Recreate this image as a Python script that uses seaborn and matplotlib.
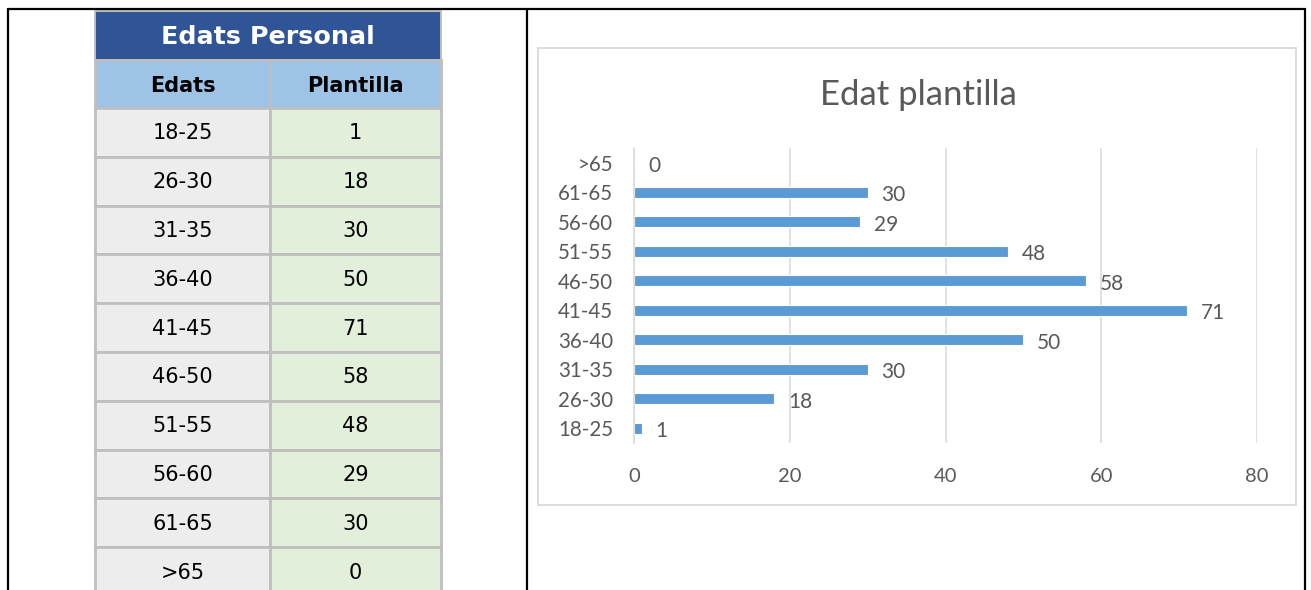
import matplotlib
matplotlib.use("Agg")
import matplotlib.pyplot as plt
import seaborn as sns
import pandas as pd
from matplotlib.patches import Rectangle
from matplotlib.lines import Line2D

# data
age_groups = ['18-25', '26-30', '31-35', '36-40', '41-45', '46-50', '51-55', '56-60', '61-65', '>65']
staff = [1, 18, 30, 50, 71, 58, 48, 29, 30, 0]
table_title = 'Edats Personal'
table_headers = ['Edats', 'Plantilla']
chart_title = 'Edat plantilla'
x_ticks = [0, 20, 40, 60, 80]

W, H = 1311, 590
sns.set_theme(style="white")
plt.rcParams['font.family'] = ['DejaVu Sans']

fig = plt.figure(figsize=(W / 100, H / 100), dpi=100)
fig.patch.set_facecolor('white')

# outer frame of the page
def fx(px):
    return px / W

def fy(py):
    return 1 - py / H

frame_kw = dict(color='black', lw=1.6, transform=fig.transFigure)
fig.add_artist(Line2D([fx(8), fx(8)], [fy(9), 0], **frame_kw))
fig.add_artist(Line2D([fx(527), fx(527)], [fy(9), 0], **frame_kw))
fig.add_artist(Line2D([fx(1305), fx(1305)], [fy(9), 0], **frame_kw))
fig.add_artist(Line2D([fx(8), fx(1305)], [fy(9), fy(9)], **frame_kw))

# ---- table (left) ----
tab = fig.add_axes([0, 0, 1, 1])
tab.set_xlim(0, W)
tab.set_ylim(H, 0)
tab.axis('off')
tab.patch.set_alpha(0)

col_x = [95, 270, 441]
grid = '#BFBFBF'
tab.add_patch(Rectangle((col_x[0], 11), col_x[2] - col_x[0], 49,
                        facecolor='#2F5597', edgecolor=grid, lw=1.4))
tab.text((col_x[0] + col_x[2]) / 2, 37, table_title, color='white',
         fontsize=18.3, fontweight='bold', ha='center', va='center')

for j, h in enumerate(table_headers):
    tab.add_patch(Rectangle((col_x[j], 60), col_x[j + 1] - col_x[j], 48,
                            facecolor='#9DC3E6', edgecolor=grid, lw=2))
    tab.text((col_x[j] + col_x[j + 1]) / 2, 85.5, h, color='black',
             fontsize=15, fontweight='bold', ha='center', va='center')

pitch = 48.8
for i, (g, v) in enumerate(zip(age_groups, staff)):
    top = 108 + i * pitch
    tab.add_patch(Rectangle((col_x[0], top), col_x[1] - col_x[0], pitch,
                            facecolor='#EDEDED', edgecolor=grid, lw=2))
    tab.add_patch(Rectangle((col_x[1], top), col_x[2] - col_x[1], pitch,
                            facecolor='#E2EFDA', edgecolor=grid, lw=2))
    tab.text((col_x[0] + col_x[1]) / 2, top + pitch / 2 + 1, g,
             fontsize=15, ha='center', va='center', color='black')
    tab.text((col_x[1] + col_x[2]) / 2, top + pitch / 2 + 1, str(v),
             fontsize=15, ha='center', va='center', color='black')

# chart area border
tab.add_patch(Rectangle((538, 48), 1296 - 538, 505 - 48, facecolor='white',
                        edgecolor='#D9D9D9', lw=1.3))

# ---- bar chart (right) ----
df = pd.DataFrame({'Edats': age_groups, 'Plantilla': staff})
ax = fig.add_axes([fx(634), fy(443), fx(1257) - fx(634), (443 - 148) / H])
ax.patch.set_alpha(0)
font = ['Lato', 'DejaVu Sans']
txt_col = '#595959'

sns.barplot(data=df, x='Plantilla', y='Edats', order=age_groups[::-1],
            orient='h', color='#5B9BD5', width=0.37, saturation=1,
            edgecolor='white', linewidth=0.8, ax=ax)

for c in ax.containers:
    labels = ax.bar_label(c, fmt='%d', padding=10, color=txt_col, fontsize=15,
                          family=font)
    for lab in labels:
        lab.xyann = (10, -2)

ax.set_xlim(0, 80)
ax.set_xticks(x_ticks)
ax.grid(axis='x', color='#D9D9D9', lw=1.1)
ax.grid(axis='y', visible=False)
ax.set_axisbelow(True)
for s in ['top', 'right', 'bottom']:
    ax.spines[s].set_visible(False)
ax.spines['left'].set_color('#D9D9D9')
ax.spines['left'].set_linewidth(1.1)
ax.set_xlabel('')
ax.set_ylabel('')
ax.tick_params(axis='x', length=0, pad=18, labelcolor=txt_col, labelsize=14.5)
ax.tick_params(axis='y', length=0, pad=15, labelcolor=txt_col, labelsize=14.8)
for lab in ax.get_xticklabels() + ax.get_yticklabels():
    lab.set_family(font)

fig.text(fx(918), fy(95), chart_title, ha='center', va='center',
         fontsize=25, color=txt_col, family=font)

fig.savefig('out.png', dpi=100)
